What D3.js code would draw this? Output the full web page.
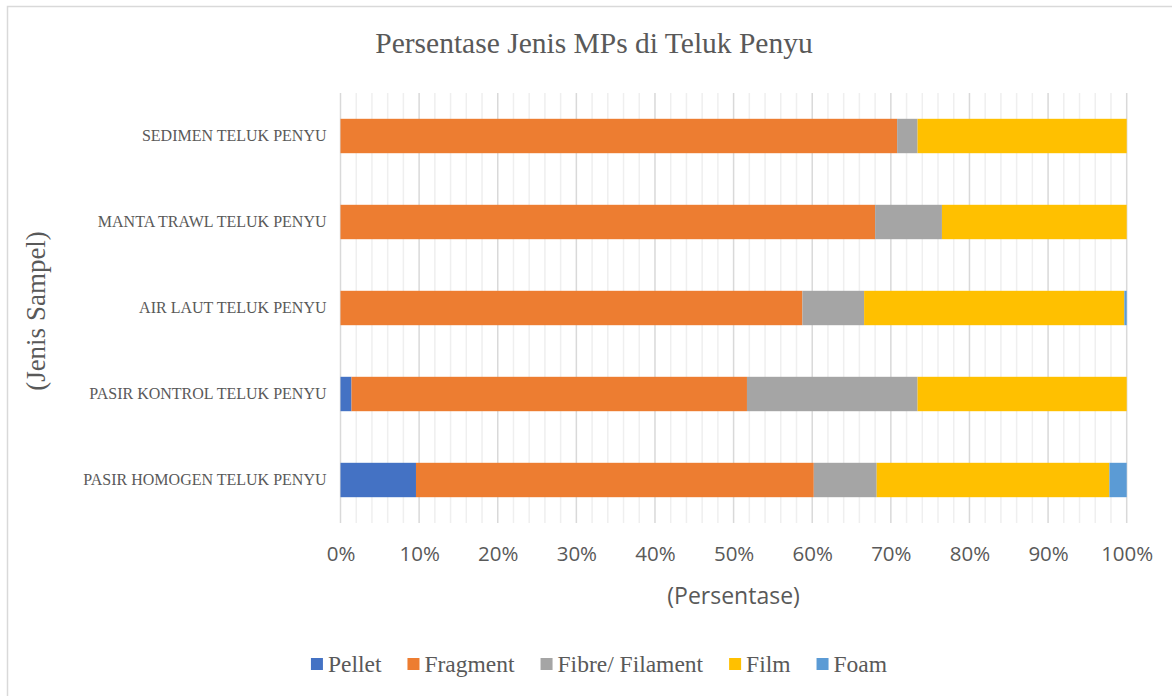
<!DOCTYPE html>
<html>
<head>
<meta charset="utf-8">
<script src="https://cdn.jsdelivr.net/npm/d3@7"></script>
<style>
html,body{margin:0;padding:0;background:#fff;}
svg{display:block;}
</style>
</head>
<body>
<svg id="chart" width="1172" height="696"></svg>
<script>
// ---- data ----
const categories = ["SEDIMEN TELUK PENYU","MANTA TRAWL TELUK PENYU","AIR LAUT TELUK PENYU","PASIR KONTROL TELUK PENYU","PASIR HOMOGEN TELUK PENYU"];
const seriesNames = ["Pellet","Fragment","Fibre/ Filament","Film","Foam"];
const pellet   = [0,    0,    0,     1.4,  9.6];
const fragment = [70.8, 68.0, 58.75, 50.3, 50.6];
const fibre    = [2.6,  8.5,  7.85,  21.7, 8.0];
const film     = [26.6, 23.5, 33.1,  26.6, 29.6];
const foam     = [0,    0,    0.3,   0,    2.2];
const xTicks = [0,0.1,0.2,0.3,0.4,0.5,0.6,0.7,0.8,0.9,1.0];
const colors = ["#4472C4","#ED7D31","#A5A5A5","#FFC000","#5B9BD5"];
const title = "Persentase Jenis MPs di Teluk Penyu";
const xTitle = "(Persentase)";
const yTitle = "(Jenis Sampel)";

const seriesVals = [pellet, fragment, fibre, film, foam];
const rows = categories.map((c,i)=>{
  const r = {cat:c};
  seriesNames.forEach((s,j)=>r[s]=seriesVals[j][i]);
  return r;
});

const svg = d3.select("#chart");
const serif = "'Liberation Serif','Times New Roman',serif";
const sans = "'Open Sans','Noto Sans',sans-serif";
const textCol = "#595959";

// frame
svg.append("rect").attr("x",7.5).attr("y",6.5).attr("width",1190).attr("height",720)
  .attr("fill","#fff").attr("stroke","#d9d9d9").attr("stroke-width",1.5);

const L = 340.5, R = 1126.7, T = 93, B = 523;
const x = d3.scaleLinear().domain([0,1]).range([L,R]);
const y = d3.scaleBand().domain(categories).range([T,B]).paddingInner(0.6).paddingOuter(0.3);

// minor grid
const minor = d3.range(0,1.0001,0.02).filter(v=>Math.round(v*100)%10!==0);
svg.append("g").selectAll("line").data(minor).join("line")
  .attr("x1",d=>x(d)).attr("x2",d=>x(d)).attr("y1",T).attr("y2",B)
  .attr("stroke","#efefef").attr("stroke-width",1.5);
// major grid
svg.append("g").selectAll("line").data(xTicks).join("line")
  .attr("x1",d=>x(d)).attr("x2",d=>x(d)).attr("y1",T).attr("y2",B)
  .attr("stroke","#d9d9d9").attr("stroke-width",1.5);

// stacks
const stack = d3.stack().keys(seriesNames).offset(d3.stackOffsetExpand);
const stacked = stack(rows);
svg.append("g").selectAll("g").data(stacked).join("g")
  .attr("fill",(d,i)=>colors[i])
  .selectAll("rect").data(d=>d).join("rect")
  .attr("x",d=>x(d[0])).attr("width",d=>Math.max(0,x(d[1])-x(d[0])))
  .attr("y",d=>y(d.data.cat)).attr("height",y.bandwidth());

// x axis ticks
const xAxis = d3.axisBottom(x).tickValues(xTicks).tickFormat(d3.format(".0%")).tickSize(0).tickPadding(0);
const gx = svg.append("g").attr("transform",`translate(0,${B})`).call(xAxis);
gx.select(".domain").remove();
gx.selectAll("text").attr("font-family",sans).attr("font-size",20.5).attr("fill",textCol)
  .attr("dy",null).attr("y",38);

// y axis labels
const yAxis = d3.axisLeft(y).tickSize(0).tickPadding(14);
const gy = svg.append("g").attr("transform",`translate(${L},0)`).call(yAxis);
gy.select(".domain").remove();
gy.selectAll("text").attr("font-family",serif).attr("font-size",16).attr("fill",textCol);

// title
svg.append("text").attr("x",594).attr("y",53).attr("text-anchor","middle")
  .attr("font-family",serif).attr("font-size",29.5).attr("fill",textCol).text(title);
// x title
svg.append("text").attr("x",(L+R)/2).attr("y",604).attr("text-anchor","middle")
  .attr("font-family",sans).attr("font-size",23).attr("fill",textCol).text(xTitle);
// y title
svg.append("text").attr("transform","translate(45,311) rotate(-90)").attr("text-anchor","middle")
  .attr("font-family",serif).attr("font-size",27).attr("fill",textCol).text(yTitle);

// legend
const lg = svg.append("g");
let cx = 0;
const gap = 26;
seriesNames.forEach((s,i)=>{
  const g = lg.append("g");
  g.append("rect").attr("x",0).attr("y",-6).attr("width",12).attr("height",12).attr("fill",colors[i]);
  const t = g.append("text").attr("x",17).attr("y",8).attr("font-family",serif).attr("font-size",23.5)
    .attr("fill",textCol).text(s);
  const w = 17 + t.node().getComputedTextLength();
  g.attr("transform",`translate(${cx},0)`);
  cx += w + gap;
});
const totalW = cx - gap;
lg.attr("transform",`translate(${599 - totalW/2},664)`);
</script>
</body>
</html>
